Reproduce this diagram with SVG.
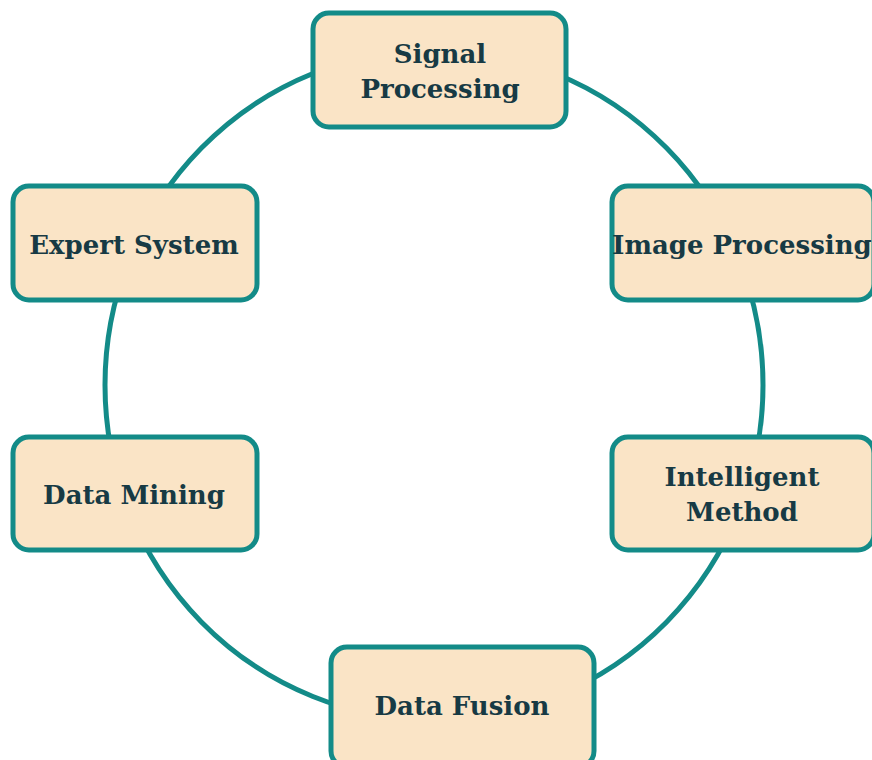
<svg xmlns="http://www.w3.org/2000/svg" width="872" height="760" viewBox="0 0 872 760">
<style>
.box{fill:#fae4c6;stroke:#138b88;stroke-width:5}
.lbl{font-family:"DejaVu Serif","Liberation Serif",serif;font-weight:bold;font-size:26px;fill:#173a44;text-anchor:middle}
</style>
<rect width="872" height="760" fill="#ffffff"/>
<g id="connectors">
<ellipse cx="434" cy="385" rx="329" ry="335" fill="none" stroke="#138b88" stroke-width="5"/>
</g>
<g id="signal-processing">
<rect class="box" x="313" y="13" width="253" height="114" rx="16"/>
<text class="lbl" x="440" y="63">Signal</text>
<text class="lbl" x="440" y="98">Processing</text>
</g>
<g id="expert-system">
<rect class="box" x="13" y="186" width="244" height="114" rx="16"/>
<text class="lbl" x="134" y="254">Expert System</text>
</g>
<g id="image-processing">
<rect class="box" x="612" y="186" width="262" height="114" rx="16"/>
<text class="lbl" x="742" y="254">Image Processing</text>
</g>
<g id="data-mining">
<rect class="box" x="13" y="437" width="244" height="113" rx="16"/>
<text class="lbl" x="134" y="504">Data Mining</text>
</g>
<g id="intelligent-method">
<rect class="box" x="612" y="437" width="262" height="113" rx="16"/>
<text class="lbl" x="742" y="486">Intelligent</text>
<text class="lbl" x="742" y="521">Method</text>
</g>
<g id="data-fusion">
<rect class="box" x="331" y="647" width="263" height="120" rx="16"/>
<text class="lbl" x="462" y="715">Data Fusion</text>
</g>
</svg>
